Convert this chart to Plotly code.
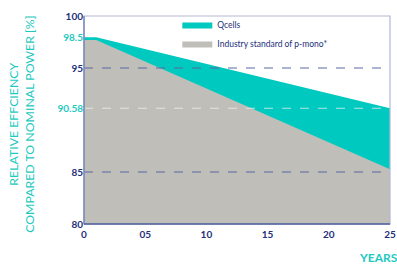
import plotly.graph_objects as go

years = [0, 1, 25]
qcells = [97.95, 97.95, 91.13]
industry = [97.7, 97.7, 85.26]

x_tick_vals = [0, 5, 10, 15, 20, 25]
x_tick_text = ["0", "05", "10", "15", "20", "25"]
y_tick_vals = [80, 85, 91.13, 95, 97.95, 100]
y_tick_text = ["80", "85", "90.58", "95", "98.5", "100"]
y_tick_teal = [False, False, True, False, True, False]
dashed_lines = [95, 85]
light_line = 91.13

NAVY = "#23307a"
TEAL = "#1ec9c0"

fig = go.Figure()
fig.add_trace(go.Scatter(x=years, y=qcells, name="Qcells", mode="lines",
                         line=dict(width=0, color="#00c9bf"), fill="tozeroy",
                         fillcolor="#00c9bf"))
fig.add_trace(go.Scatter(x=years, y=industry, name="Industry standard of p-mono*", mode="lines",
                         line=dict(width=0, color="#bfbeb9"), fill="tozeroy",
                         fillcolor="#bfbeb9"))

ticktext = [f"<span style='color:{TEAL}'>{t}</span>" if teal else t
            for t, teal in zip(y_tick_text, y_tick_teal)]

for v in dashed_lines:
    fig.add_shape(type="line", xref="paper", yref="y", x0=0, x1=1, y0=v, y1=v,
                  line=dict(color="#5b67a3", width=1, dash="dash"), layer="above")
fig.add_shape(type="line", xref="paper", yref="y", x0=0, x1=1, y0=light_line, y1=light_line,
              line=dict(color="rgba(240,240,240,0.75)", width=1, dash="dash"), layer="above")
fig.add_shape(type="rect", xref="paper", yref="paper", x0=0, x1=1, y0=0, y1=1,
              line=dict(color="#b3b8d3", width=1.2), layer="above")
fig.add_shape(type="line", xref="paper", yref="paper", x0=0, x1=0, y0=0, y1=1,
              line=dict(color="#6a78b0", width=1.2), layer="above")
fig.add_shape(type="line", xref="paper", yref="paper", x0=0, x1=1, y0=0, y1=0,
              line=dict(color="#4f5e9c", width=1.5), layer="above")

fig.add_annotation(text="YEARS", xref="paper", yref="paper", x=0.892, y=-0.163,
                   xanchor="left", yanchor="middle", showarrow=False,
                   font=dict(family="Lato", size=12, color=TEAL, weight="bold"))
fig.add_annotation(text="RELATIVE EFFCIENCY<br>COMPARED TO NOMINAL POWER [%]",
                   xref="paper", yref="paper", x=-0.205, y=0.478,
                   xanchor="center", yanchor="middle", textangle=-90, showarrow=False,
                   font=dict(family="Lato", size=12.3, color=TEAL))

fig.update_layout(
    width=397, height=266,
    margin=dict(l=84, r=7, t=16, b=42),
    paper_bgcolor="white", plot_bgcolor="white",
    font=dict(family="Lato", color=NAVY),
    showlegend=True,
    legend=dict(x=0.305, y=1.029, xanchor="left", yanchor="top",
                bgcolor="rgba(0,0,0,0)", font=dict(size=8.5, color=NAVY),
                itemwidth=30),
    xaxis=dict(range=[0, 25], tickvals=x_tick_vals, ticktext=x_tick_text,
               showgrid=False, zeroline=False, showline=False, ticks="",
               automargin=False, ticklabelstandoff=3,
               tickfont=dict(size=10, color=NAVY, weight="bold")),
    yaxis=dict(range=[80, 100], tickvals=y_tick_vals, ticktext=ticktext,
               showgrid=False, zeroline=False, showline=False, ticks="",
               automargin=False,
               tickfont=dict(size=10, color=NAVY, weight="bold")),
)

fig.write_html("out.html", post_script="document.body.style.margin='0';",
               config={"displayModeBar": False})
